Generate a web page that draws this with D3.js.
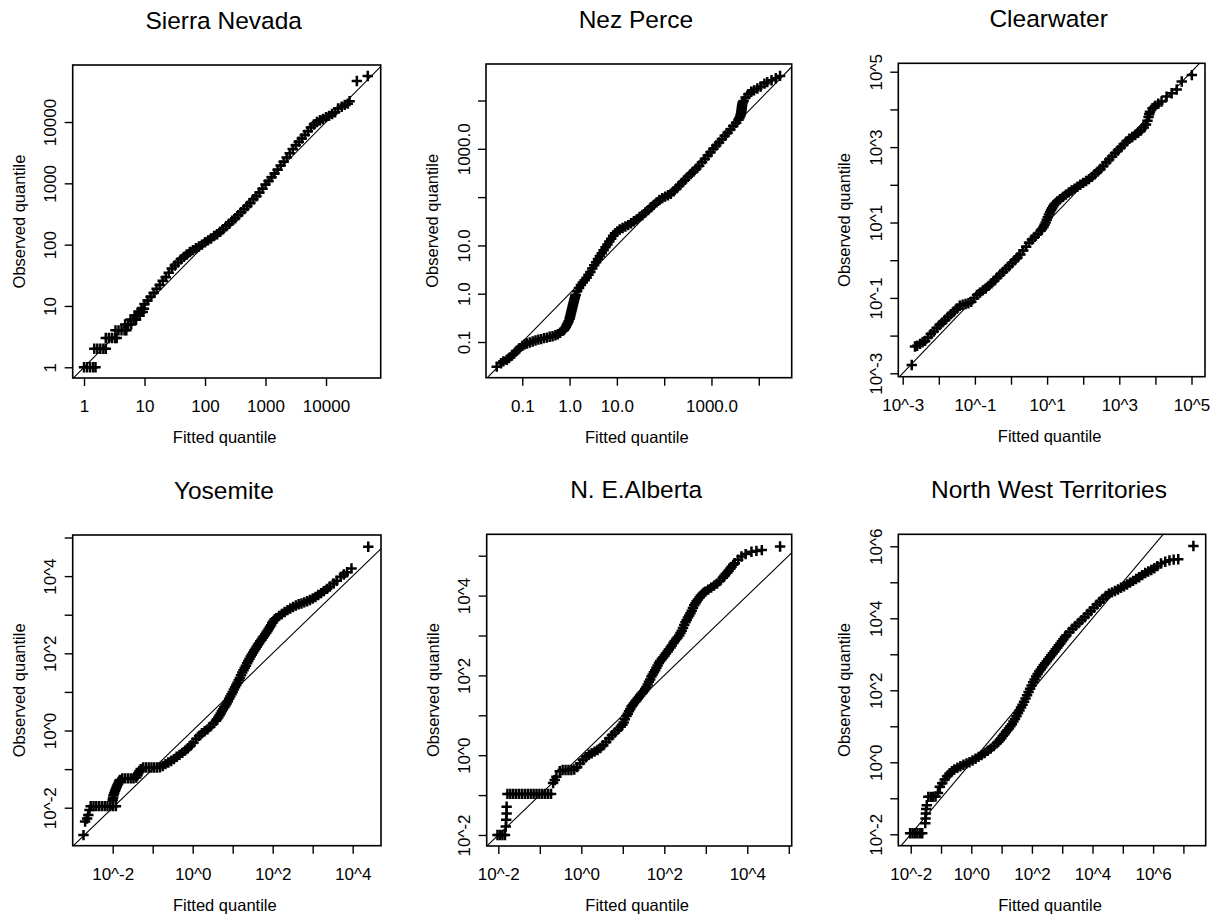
<!DOCTYPE html>
<html>
<head>
<meta charset="utf-8">
<script src="https://cdn.jsdelivr.net/npm/d3@7"></script>
<style>
  body { margin: 0; background: #fff; }
  text { font-family: "Liberation Sans", Arial, Helvetica, sans-serif; fill: #000; font-weight: 400; }
</style>
</head>
<body>
<svg id="chart" width="1225" height="916"></svg>
<script>
// ---------------- DATA (values are log10 of the quantiles) ----------------
const titles = ["Sierra Nevada", "Nez Perce", "Clearwater", "Yosemite", "N. E.Alberta", "North West Territories"];
const xAxisTitle = "Fitted quantile";
const yAxisTitle = "Observed quantile";

// Sierra Nevada
const sierraFittedLog10 = [0.00,0.05,0.10,0.15,0.19,0.17,0.22,0.27,0.32,0.36,
  0.36,0.41,0.46,0.51,0.54,0.52,0.57,0.62,0.67,0.70,
  0.68,0.73,0.78,0.77,0.82,0.86,0.84,0.88,0.92,0.90,
  0.94,0.97,0.95,0.99,
  1.00,1.05,1.10,1.15,1.20,1.25,1.30,1.35,1.40,1.45,
  1.50,1.55,1.60,1.65,1.70,1.75,1.80,1.85,1.90,1.95,
  2.00,2.05,2.10,2.15,2.20,2.25,2.30,2.35,2.40,2.45,
  2.50,2.55,2.60,2.65,2.70,2.75,2.80,2.85,2.90,2.95,
  3.00,3.05,3.10,3.15,3.20,3.25,3.30,3.35,3.40,3.45,
  3.50,3.55,3.60,3.65,3.70,3.75,3.80,3.85,3.90,3.95,
  4.00,4.05,4.10,4.15,
  4.20,4.26,4.31,4.36,4.39,4.51,4.69];
const sierraObservedLog10 = [0,0,0,0,0,0.301,0.301,0.301,0.301,0.301,
  0.477,0.477,0.477,0.477,0.477,0.602,0.602,0.602,0.602,0.602,
  0.699,0.699,0.699,0.778,0.778,0.778,0.845,0.845,0.845,0.903,
  0.903,0.903,0.954,0.954,
  1.03,1.09,1.15,1.21,1.28,1.34,1.41,1.47,1.54,1.61,
  1.66,1.71,1.76,1.80,1.84,1.88,1.91,1.94,1.97,2.00,
  2.04,2.07,2.10,2.14,2.17,2.21,2.25,2.30,2.34,2.39,
  2.43,2.48,2.53,2.58,2.63,2.68,2.74,2.79,2.85,2.91,
  2.98,3.04,3.10,3.16,3.22,3.29,3.35,3.42,3.49,3.56,
  3.62,3.68,3.73,3.79,3.85,3.91,3.96,4.00,4.03,4.05,
  4.08,4.10,4.13,4.16,
  4.22,4.25,4.28,4.30,4.34,4.67,4.75];

// Nez Perce
const nezFittedLog10 = [-1.54,-1.45,-1.40,-1.33,-1.28,-1.22,-1.17,-1.12,-1.06,-1.00,
  -0.95,-0.90,-0.84,-0.78,-0.72,-0.66,-0.60,-0.54,-0.48,-0.42,
  -0.36,-0.30,-0.25,-0.20,-0.15,-0.12,-0.10,-0.08,-0.06,-0.04,
  -0.02,0.00,0.01,0.02,0.03,0.04,0.05,0.06,0.07,0.08,
  0.09,0.10,0.11,0.12,0.13,0.16,0.20,0.24,0.28,0.32,
  0.36,0.40,0.44,0.48,0.52,0.56,0.60,0.64,0.68,0.72,
  0.76,0.80,0.84,0.88,0.92,0.96,1.01,1.06,1.12,1.18,
  1.24,1.30,1.36,1.42,1.48,1.54,1.60,1.66,1.72,1.78,
  1.84,1.90,1.96,2.02,2.08,2.14,2.20,2.26,2.32,2.38,
  2.44,2.50,2.56,2.62,2.68,2.74,2.80,2.86,2.92,2.98,
  3.04,3.10,3.16,3.22,3.28,3.34,3.40,3.46,3.52,3.57,
  3.59,3.61,3.62,3.63,3.635,3.64,3.645,3.65,3.66,3.68,
  3.72,3.78,3.84,3.90,3.97,4.04,4.12,4.18,4.27,4.36,
  4.45];
const nezObservedLog10 = [-1.51,-1.44,-1.40,-1.37,-1.33,-1.28,-1.24,-1.18,-1.13,-1.08,
  -1.05,-1.03,-1.01,-0.99,-0.97,-0.95,-0.94,-0.92,-0.91,-0.89,
  -0.88,-0.86,-0.84,-0.81,-0.77,-0.75,-0.72,-0.69,-0.65,-0.61,
  -0.57,-0.52,-0.48,-0.44,-0.40,-0.36,-0.32,-0.28,-0.24,-0.20,
  -0.16,-0.12,-0.09,-0.05,-0.02,0.05,0.12,0.18,0.23,0.28,
  0.33,0.39,0.45,0.52,0.59,0.65,0.72,0.78,0.84,0.90,
  0.96,1.02,1.08,1.14,1.20,1.25,1.29,1.33,1.36,1.39,
  1.42,1.46,1.50,1.54,1.59,1.63,1.68,1.73,1.79,1.84,
  1.89,1.94,1.98,2.01,2.04,2.07,2.12,2.18,2.24,2.30,
  2.36,2.42,2.48,2.53,2.59,2.65,2.72,2.79,2.86,2.93,
  3.00,3.07,3.13,3.20,3.27,3.33,3.40,3.47,3.54,3.60,
  3.64,3.68,3.72,3.76,3.80,3.84,3.88,3.92,3.96,3.99,
  4.06,4.13,4.18,4.21,4.25,4.29,4.35,4.38,4.42,4.46,
  4.51];

// Clearwater
const clearFittedLog10 = [-2.75,-2.66,-2.60,-2.52,-2.45,-2.38,-2.30,-2.22,-2.14,-2.06,
  -1.98,-1.90,-1.82,-1.74,-1.66,-1.58,-1.50,-1.42,-1.34,-1.26,
  -1.18,-1.10,-1.02,-0.94,-0.86,-0.78,-0.70,-0.62,-0.54,-0.46,
  -0.38,-0.30,-0.22,-0.14,-0.06,0.02,0.10,0.18,0.26,0.34,
  0.42,0.50,0.58,0.66,0.74,0.82,0.86,0.90,0.93,0.96,
  0.99,1.02,1.05,1.08,1.11,1.14,1.17,1.20,1.24,1.28,
  1.36,1.44,1.52,1.60,1.68,1.76,1.84,1.92,2.00,2.08,
  2.16,2.24,2.32,2.40,2.48,2.56,2.64,2.72,2.80,2.88,
  2.96,3.04,3.12,3.20,3.28,3.36,3.44,3.52,3.60,3.68,
  3.74,3.78,3.81,3.83,3.85,3.92,3.99,4.08,4.17,4.31,
  4.45,4.59,4.73,5.01];
const clearObservedLog10 = [-2.78,-2.29,-2.27,-2.22,-2.18,-2.14,-2.05,-1.96,-1.89,-1.80,
  -1.72,-1.65,-1.58,-1.50,-1.43,-1.36,-1.28,-1.21,-1.18,-1.16,
  -1.14,-1.10,-1.01,-0.92,-0.86,-0.80,-0.75,-0.68,-0.61,-0.54,
  -0.46,-0.38,-0.31,-0.23,-0.16,-0.08,0.00,0.07,0.15,0.26,
  0.36,0.46,0.55,0.62,0.70,0.78,0.83,0.88,0.94,1.00,
  1.07,1.14,1.21,1.27,1.33,1.38,1.43,1.48,1.52,1.56,
  1.62,1.68,1.74,1.80,1.85,1.90,1.95,2.00,2.05,2.10,
  2.15,2.21,2.28,2.35,2.42,2.50,2.59,2.67,2.75,2.84,
  2.91,2.99,3.07,3.15,3.22,3.27,3.32,3.38,3.44,3.52,
  3.60,3.70,3.80,3.87,3.94,4.03,4.09,4.15,4.21,4.34,
  4.43,4.53,4.74,4.91];

// Yosemite
const yoseFittedLog10 = [-2.73,-2.69,-2.64,-2.61,-2.58,-2.55,-2.48,-2.41,-2.34,-2.27,
  -2.20,-2.13,-2.06,-1.99,-1.92,-2.00,-1.99,-1.98,-1.96,-1.94,
  -1.92,-1.90,-1.88,-1.86,-1.84,-1.82,-1.76,-1.69,-1.62,-1.55,
  -1.48,-1.41,-1.38,-1.36,-1.33,-1.30,-1.24,-1.17,-1.10,-1.03,
  -0.96,-0.89,-0.82,-0.75,-0.68,-0.61,-0.54,-0.47,-0.40,-0.33,
  -0.26,-0.19,-0.12,-0.05,0.02,0.09,0.16,0.23,0.30,0.37,
  0.44,0.51,0.58,0.61,0.64,0.67,0.70,0.73,0.76,0.79,
  0.82,0.85,0.88,0.91,0.94,0.97,1.00,1.03,1.06,1.09,
  1.12,1.15,1.18,1.21,1.24,1.27,1.30,1.33,1.36,1.39,
  1.42,1.45,1.48,1.51,1.54,1.57,1.60,1.63,1.66,1.69,
  1.72,1.75,1.78,1.81,1.84,1.87,1.90,1.93,1.96,1.99,
  2.02,2.05,2.09,2.16,2.23,2.30,2.37,2.44,2.51,2.58,
  2.65,2.72,2.79,2.86,2.93,3.00,3.07,3.14,3.21,3.28,
  3.36,3.43,3.52,3.60,3.70,3.78,3.86,3.97,4.39];
const yoseObservedLog10 = [-2.71,-2.36,-2.28,-2.19,-2.06,-1.96,-1.96,-1.96,-1.96,-1.96,
  -1.96,-1.96,-1.96,-1.96,-1.96,-1.80,-1.74,-1.68,-1.62,-1.56,
  -1.51,-1.46,-1.41,-1.37,-1.32,-1.28,-1.24,-1.24,-1.24,-1.24,
  -1.24,-1.22,-1.16,-1.10,-1.05,-1.00,-0.96,-0.96,-0.96,-0.96,
  -0.96,-0.96,-0.95,-0.92,-0.87,-0.83,-0.79,-0.74,-0.68,-0.63,
  -0.58,-0.52,-0.46,-0.39,-0.31,-0.22,-0.14,-0.07,-0.02,0.03,
  0.10,0.18,0.25,0.29,0.34,0.39,0.44,0.50,0.55,0.60,
  0.65,0.70,0.76,0.82,0.88,0.94,1.00,1.06,1.12,1.18,
  1.24,1.30,1.36,1.43,1.50,1.56,1.62,1.68,1.74,1.80,
  1.86,1.92,1.97,2.02,2.07,2.12,2.17,2.22,2.26,2.31,
  2.35,2.40,2.44,2.49,2.53,2.58,2.63,2.68,2.73,2.79,
  2.84,2.88,2.91,2.97,3.02,3.07,3.12,3.16,3.20,3.24,
  3.27,3.29,3.32,3.35,3.38,3.42,3.46,3.51,3.56,3.61,
  3.67,3.73,3.81,3.88,3.98,4.04,4.10,4.20,4.76];

// N. E. Alberta
const albFittedLog10 = [-2.02,-1.96,-1.90,-1.84,-1.82,-1.81,-1.80,-1.80,-1.78,-1.71,
  -1.64,-1.57,-1.50,-1.43,-1.36,-1.29,-1.22,-1.15,-1.08,-1.01,
  -0.94,-0.87,-0.80,-0.73,-0.68,-0.64,-0.60,-0.52,-0.45,-0.38,
  -0.31,-0.24,-0.17,-0.10,-0.03,0.04,0.11,0.18,0.25,0.32,
  0.39,0.46,0.53,0.60,0.67,0.74,0.81,0.88,0.95,0.99,
  1.02,1.05,1.09,1.12,1.15,1.18,1.21,1.24,1.27,1.30,
  1.33,1.36,1.39,1.42,1.45,1.48,1.51,1.54,1.57,1.60,
  1.63,1.66,1.69,1.72,1.75,1.78,1.81,1.84,1.87,1.90,
  1.94,1.97,2.01,2.04,2.08,2.11,2.15,2.18,2.22,2.25,
  2.29,2.32,2.36,2.39,2.42,2.45,2.48,2.51,2.54,2.57,
  2.60,2.63,2.66,2.69,2.72,2.75,2.78,2.81,2.85,2.88,
  2.92,2.95,2.99,3.06,3.13,3.20,3.27,3.34,3.41,3.45,
  3.48,3.52,3.55,3.59,3.62,3.66,3.70,3.78,3.86,3.96,
  4.10,4.22,4.35,4.79];
const albObservedLog10 = [-2.00,-2.00,-2.00,-2.00,-1.79,-1.62,-1.46,-1.29,-0.97,-0.97,
  -0.97,-0.97,-0.97,-0.97,-0.97,-0.97,-0.97,-0.97,-0.97,-0.97,
  -0.97,-0.97,-0.97,-0.97,-0.70,-0.62,-0.54,-0.40,-0.37,-0.37,
  -0.37,-0.37,-0.36,-0.30,-0.21,-0.12,-0.05,0.01,0.05,0.09,
  0.13,0.18,0.25,0.33,0.42,0.50,0.57,0.64,0.71,0.76,
  0.82,0.90,0.98,1.04,1.10,1.16,1.22,1.26,1.30,1.34,
  1.38,1.42,1.46,1.50,1.54,1.57,1.61,1.66,1.71,1.77,
  1.84,1.90,1.97,2.02,2.08,2.13,2.19,2.25,2.31,2.36,
  2.41,2.45,2.50,2.55,2.60,2.65,2.70,2.75,2.81,2.86,
  2.91,2.95,3.00,3.06,3.12,3.19,3.26,3.33,3.39,3.45,
  3.50,3.56,3.62,3.69,3.76,3.81,3.86,3.90,3.95,4.00,
  4.04,4.07,4.10,4.15,4.20,4.25,4.30,4.37,4.45,4.50,
  4.54,4.58,4.62,4.67,4.72,4.77,4.81,4.90,4.98,5.04,
  5.10,5.12,5.14,5.23];

// North West Territories
const nwtFittedLog10 = [-2.02,-1.94,-1.86,-1.78,-1.70,-1.62,-1.52,-1.51,-1.50,-1.49,
  -1.47,-1.42,-1.34,-1.26,-1.18,-1.10,-1.04,-0.96,-0.88,-0.80,
  -0.72,-0.64,-0.56,-0.46,-0.36,-0.26,-0.16,-0.06,0.04,0.14,
  0.24,0.34,0.44,0.54,0.64,0.74,0.84,0.89,0.94,0.99,
  1.04,1.09,1.14,1.19,1.24,1.29,1.34,1.39,1.44,1.49,
  1.54,1.59,1.64,1.69,1.74,1.79,1.84,1.89,1.94,1.99,
  2.04,2.09,2.14,2.19,2.24,2.29,2.34,2.39,2.44,2.49,
  2.54,2.59,2.64,2.69,2.74,2.79,2.84,2.89,2.94,2.99,
  3.04,3.09,3.14,3.24,3.34,3.44,3.54,3.64,3.74,3.84,
  3.94,4.04,4.14,4.24,4.34,4.44,4.54,4.64,4.74,4.84,
  4.94,5.04,5.14,5.24,5.34,5.44,5.54,5.64,5.74,5.84,
  5.94,6.04,6.14,6.26,6.40,6.54,6.68,6.83,7.33];
const nwtObservedLog10 = [-1.97,-1.97,-1.97,-1.97,-1.97,-1.97,-1.69,-1.56,-1.42,-1.30,
  -1.19,-0.96,-0.96,-0.96,-0.95,-0.85,-0.68,-0.58,-0.48,-0.39,
  -0.31,-0.25,-0.20,-0.15,-0.11,-0.07,-0.03,0.00,0.05,0.10,
  0.15,0.20,0.26,0.32,0.38,0.45,0.53,0.57,0.62,0.67,
  0.73,0.78,0.84,0.89,0.94,1.00,1.06,1.13,1.20,1.28,
  1.36,1.44,1.52,1.60,1.68,1.77,1.86,1.95,2.04,2.13,
  2.22,2.30,2.38,2.45,2.52,2.58,2.64,2.70,2.75,2.81,
  2.86,2.92,2.97,3.03,3.08,3.14,3.19,3.25,3.30,3.36,
  3.42,3.48,3.53,3.62,3.71,3.79,3.87,3.95,4.03,4.12,
  4.20,4.29,4.38,4.46,4.54,4.62,4.68,4.72,4.76,4.80,
  4.85,4.89,4.94,4.99,5.04,5.09,5.14,5.20,5.26,5.30,
  5.34,5.39,5.45,5.52,5.57,5.61,5.63,5.64,6.01];

// Axis limits (log10) and tick values / labels
const sierraXLim = [-0.187, 4.904], sierraYLim = [-0.175, 4.93];
const nezXLim = [-1.767, 4.696], nezYLim = [-1.739, 4.756];
const clearXLim = [-3.122, 5.374], clearYLim = [-3.09, 5.223];
const yoseXLim = [-3.0, 4.708], yoseYLim = [-2.984, 5.065];
const albXLim = [-2.28, 5.07], albYLim = [-2.276, 5.536];
const nwtXLim = [-2.41, 7.736], nwtYLim = [-2.317, 6.333];

const sierraTicks = [1, 10, 100, 1000, 10000];
const sierraTickLabels = ["1", "10", "100", "1000", "10000"];
const nezTicks = [0.1, 1, 10, 100, 1000, 10000];
const nezTickLabels = ["0.1", "1.0", "10.0", "", "1000.0", ""];
const clearTicks = [1e-3, 1e-2, 1e-1, 1, 10, 100, 1e3, 1e4, 1e5];
const clearTickLabels = ["10^-3", "", "10^-1", "", "10^1", "", "10^3", "", "10^5"];
const yoseXTicks = [1e-2, 1e-1, 1, 10, 100, 1e3, 1e4];
const yoseXTickLabels = ["10^-2", "", "10^0", "", "10^2", "", "10^4"];
const yoseYTicks = [1e-2, 1e-1, 1, 10, 100, 1e3, 1e4, 1e5];
const yoseYTickLabels = ["10^-2", "", "10^0", "", "10^2", "", "10^4", ""];
const albTicks = [1e-2, 1e-1, 1, 10, 100, 1e3, 1e4, 1e5];
const albTickLabels = ["10^-2", "", "10^0", "", "10^2", "", "10^4", ""];
const nwtXTicks = [1e-2, 1e-1, 1, 10, 100, 1e3, 1e4, 1e5, 1e6, 1e7];
const nwtXTickLabels = ["10^-2", "", "10^0", "", "10^2", "", "10^4", "", "10^6", ""];
const nwtYTicks = [1e-2, 1e-1, 1, 10, 100, 1e3, 1e4, 1e5, 1e6];
const nwtYTickLabels = ["10^-2", "", "10^0", "", "10^2", "", "10^4", "", "10^6"];

// ---------------- LAYOUT ----------------
// plot boxes: [left, top, right, bottom]
const boxes = [
  [72.7, 65, 380.7, 378],
  [486, 64, 791.7, 377.7],
  [898.3, 63.3, 1205, 376.7],
  [72.7, 535, 381, 845.7],
  [486.7, 534.3, 791.7, 846],
  [898.3, 534.3, 1205.7, 845.7]
];

const panels = [
  { fitted: sierraFittedLog10, observed: sierraObservedLog10, xLim: sierraXLim, yLim: sierraYLim,
    xTicks: sierraTicks, xLabels: sierraTickLabels, yTicks: sierraTicks, yLabels: sierraTickLabels },
  { fitted: nezFittedLog10, observed: nezObservedLog10, xLim: nezXLim, yLim: nezYLim,
    xTicks: nezTicks, xLabels: nezTickLabels, yTicks: nezTicks, yLabels: nezTickLabels },
  { fitted: clearFittedLog10, observed: clearObservedLog10, xLim: clearXLim, yLim: clearYLim,
    xTicks: clearTicks, xLabels: clearTickLabels, yTicks: clearTicks, yLabels: clearTickLabels },
  { fitted: yoseFittedLog10, observed: yoseObservedLog10, xLim: yoseXLim, yLim: yoseYLim,
    xTicks: yoseXTicks, xLabels: yoseXTickLabels, yTicks: yoseYTicks, yLabels: yoseYTickLabels },
  { fitted: albFittedLog10, observed: albObservedLog10, xLim: albXLim, yLim: albYLim,
    xTicks: albTicks, xLabels: albTickLabels, yTicks: albTicks, yLabels: albTickLabels },
  { fitted: nwtFittedLog10, observed: nwtObservedLog10, xLim: nwtXLim, yLim: nwtYLim,
    xTicks: nwtXTicks, xLabels: nwtXTickLabels, yTicks: nwtYTicks, yLabels: nwtYTickLabels }
];

const FONT = '"Liberation Sans", Arial, Helvetica, sans-serif';
const svg = d3.select("#chart");
svg.append("rect").attr("width", 1225).attr("height", 916).attr("fill", "#fff");
const defs = svg.append("defs");

panels.forEach((p, i) => {
  const [l, t, r, b] = boxes[i];
  const x = d3.scaleLog().domain(p.xLim.map(e => Math.pow(10, e))).range([l, r]);
  const y = d3.scaleLog().domain(p.yLim.map(e => Math.pow(10, e))).range([b, t]);
  const g = svg.append("g");

  defs.append("clipPath").attr("id", "clip" + i)
    .append("rect").attr("x", l).attr("y", t).attr("width", r - l).attr("height", b - t);
  const inner = g.append("g").attr("clip-path", `url(#clip${i})`);

  const n = Math.min(p.fitted.length, p.observed.length);
  const pts = d3.range(n).map(k => [Math.pow(10, p.fitted[k]), Math.pow(10, p.observed[k])]);

  inner.selectAll("path.pt").data(pts).join("path")
    .attr("class", "pt")
    .attr("d", "M-5.2,0H5.2M0,-5.2V5.2")
    .attr("transform", d => `translate(${x(d[0]).toFixed(2)},${y(d[1]).toFixed(2)})`)
    .attr("stroke", "#000").attr("stroke-width", 2.5).attr("fill", "none");

  // 1:1 reference line
  const lo = Math.pow(10, Math.min(p.xLim[0], p.yLim[0]) - 0.5);
  const hi = Math.pow(10, Math.max(p.xLim[1], p.yLim[1]) + 0.5);
  inner.append("line")
    .attr("x1", x(lo)).attr("y1", y(lo)).attr("x2", x(hi)).attr("y2", y(hi))
    .attr("stroke", "#000").attr("stroke-width", 1.1);

  // x axis
  const xa = d3.axisBottom(x).tickValues(p.xTicks)
    .tickFormat(d => p.xLabels[p.xTicks.indexOf(d)]).tickSize(8);
  const gx = g.append("g").attr("transform", `translate(0,${b})`).call(xa)
    .attr("font-family", FONT).attr("font-size", 17);
  gx.select(".domain").remove();
  gx.selectAll(".tick line").attr("stroke", "#000").attr("stroke-width", 1.4);
  gx.selectAll(".tick text").attr("y", 34).attr("dy", null).attr("fill", "#000");

  // y axis
  const ya = d3.axisLeft(y).tickValues(p.yTicks)
    .tickFormat(d => p.yLabels[p.yTicks.indexOf(d)]).tickSize(8);
  const gy = g.append("g").attr("transform", `translate(${l},0)`).call(ya)
    .attr("font-family", FONT).attr("font-size", 17);
  gy.select(".domain").remove();
  gy.selectAll(".tick line").attr("stroke", "#000").attr("stroke-width", 1.4);
  gy.selectAll(".tick text")
    .attr("x", 0).attr("y", -16.5).attr("dy", null)
    .attr("transform", "rotate(-90)")
    .attr("text-anchor", "middle").attr("fill", "#000");

  // box
  g.append("rect").attr("x", l).attr("y", t).attr("width", r - l).attr("height", b - t)
    .attr("fill", "none").attr("stroke", "#000").attr("stroke-width", 1.6);

  // titles and axis labels
  g.append("text").attr("x", (l + r) / 2 - 3).attr("y", t - 36)
    .attr("text-anchor", "middle").attr("font-size", 24.5).attr("font-weight", 400).text(titles[i]);
  g.append("text").attr("x", (l + r) / 2 - 2).attr("y", b + 65)
    .attr("text-anchor", "middle").attr("font-size", 16.5).text(xAxisTitle);
  g.append("text")
    .attr("transform", `translate(${l - 48},${(t + b) / 2}) rotate(-90)`)
    .attr("text-anchor", "middle").attr("font-size", 16.5).text(yAxisTitle);
});
</script>
</body>
</html>
